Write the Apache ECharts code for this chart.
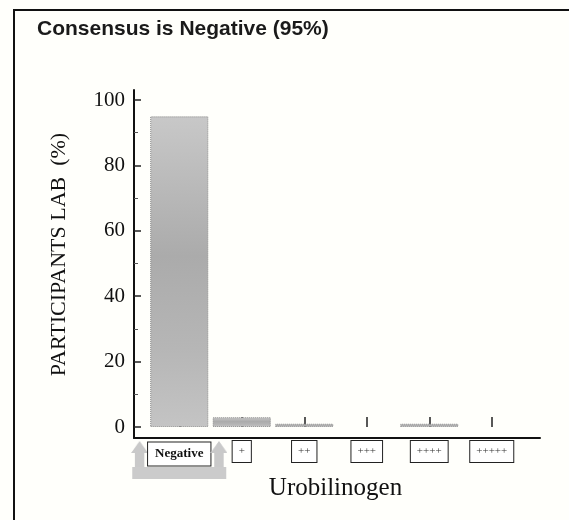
<!DOCTYPE html>
<html>
<head>
<meta charset="utf-8">
<script src="https://cdn.jsdelivr.net/npm/echarts@6/dist/echarts.min.js"></script>
<style>
  html, body { margin: 0; padding: 0; background: #fffffb; }
  #main { width: 569px; height: 520px; }
</style>
</head>
<body>
<div id="main"></div>
<script>
// urobilinogen result categories
var categories = ['Negative', '+', '++', '+++', '++++', '+++++'];

// share of participant labs (%)
var percents = [95, 3, 1, 0, 1, 0];

var yTicks = [0, 20, 40, 60, 80, 100];

var consensus = 'Negative';

var serif = "'Liberation Serif', 'DejaVu Serif', serif";

var barColor = new echarts.graphic.LinearGradient(0, 0, 0, 1, [
    { offset: 0, color: '#c8c8c8' },
    { offset: 0.45, color: '#ababab' },
    { offset: 0.75, color: '#b6b6b6' },
    { offset: 1, color: '#c4c4c4' }
]);

// little grey up-arrow used either side of the consensus label
function arrowIcon() {
    var c = document.createElement('canvas');
    c.width = 18;
    c.height = 26;
    var ctx = c.getContext('2d');
    ctx.fillStyle = '#c9c9c9';
    ctx.beginPath();
    ctx.moveTo(9, 0);
    ctx.lineTo(18, 12);
    ctx.lineTo(14, 12);
    ctx.lineTo(14, 26);
    ctx.lineTo(4, 26);
    ctx.lineTo(4, 12);
    ctx.lineTo(0, 12);
    ctx.closePath();
    ctx.fill();
    return c;
}

var option = {
    backgroundColor: '#fffffb',
    animation: false,
    title: {
        text: 'Consensus is ' + consensus + ' (95%)',
        left: 37,
        top: 19,
        padding: 0,
        textStyle: {
            fontFamily: "'Liberation Sans', Arial, sans-serif",
            fontWeight: 'bold',
            fontSize: 21,
            color: '#1a1a1a'
        }
    },
    graphic: [{
        // scanned frame round the figure
        type: 'rect',
        shape: { x: 14, y: 10, width: 620, height: 600 },
        style: { fill: 'none', stroke: '#111', lineWidth: 2 },
        silent: true
    }],
    grid: [
        // data grid
        { left: 148, right: 46, top: 100, bottom: 93 },
        // frame grid: only carries the long L-shaped axis lines
        { left: 134, right: 29, top: 90, bottom: 82 }
    ],
    xAxis: [{
        type: 'category',
        gridIndex: 0,
        data: categories,
        offset: 11,
        name: 'Urobilinogen',
        nameLocation: 'middle',
        nameGap: 38,
        nameMoveOverlap: false,
        nameTextStyle: {
            fontFamily: serif,
            fontSize: 25,
            color: '#111'
        },
        axisLine: { show: false },
        axisTick: {
            show: true,
            inside: true,
            length: 10,
            alignWithLabel: true,
            lineStyle: { color: '#222', width: 1.5 }
        },
        axisLabel: {
            margin: 3,
            interval: 0,
            formatter: function (v) {
                if (v === consensus) {
                    return '{s| }{n|' + v + '}{s| }\n{u| }';
                }
                return '{p|' + v + '}';
            },
            rich: {
                s: {
                    width: 17,
                    height: 26,
                    backgroundColor: { image: arrowIcon() }
                },
                u: {
                    width: 94,
                    height: 12,
                    backgroundColor: '#cbcbcb'
                },
                n: {
                    fontFamily: serif,
                    fontWeight: 'bold',
                    fontSize: 13,
                    color: '#111',
                    backgroundColor: '#fff',
                    borderColor: '#222',
                    borderWidth: 1,
                    padding: [5, 7]
                },
                p: {
                    fontFamily: serif,
                    fontSize: 11,
                    color: '#333',
                    backgroundColor: '#fff',
                    borderColor: '#222',
                    borderWidth: 1,
                    padding: [5, 6]
                }
            }
        },
        splitLine: { show: false }
    }, {
        type: 'value',
        gridIndex: 1,
        min: 0,
        max: 1,
        axisLine: { show: true, lineStyle: { color: '#111', width: 2 } },
        axisTick: { show: false },
        axisLabel: { show: false },
        splitLine: { show: false }
    }],
    yAxis: [{
        type: 'value',
        gridIndex: 0,
        min: yTicks[0],
        max: yTicks[yTicks.length - 1],
        interval: yTicks[1] - yTicks[0],
        offset: 14,
        name: 'PARTICIPANTS LAB  (%)',
        nameLocation: 'middle',
        nameGap: 64,
        nameMoveOverlap: false,
        nameTextStyle: {
            fontFamily: serif,
            fontSize: 22,
            color: '#111',
            padding: [0, 0, 0, 18]
        },
        axisLine: { show: false },
        axisTick: {
            show: true,
            inside: true,
            length: 7,
            lineStyle: { color: '#222', width: 1.5 }
        },
        minorTick: {
            show: true,
            splitNumber: 2,
            length: 4,
            lineStyle: { color: '#555', width: 1 }
        },
        axisLabel: {
            margin: 9,
            fontFamily: serif,
            fontSize: 21,
            color: '#111'
        },
        splitLine: { show: false }
    }, {
        type: 'value',
        gridIndex: 1,
        min: 0,
        max: 1,
        axisLine: { show: true, lineStyle: { color: '#111', width: 2 } },
        axisTick: { show: false },
        axisLabel: { show: false },
        splitLine: { show: false }
    }],
    series: [{
        type: 'bar',
        xAxisIndex: 0,
        yAxisIndex: 0,
        barWidth: '93%',
        // empty categories draw no bar at all
        data: percents.map(function (p) { return p > 0 ? p : null; }),
        itemStyle: {
            color: barColor,
            borderColor: '#8a8a8a',
            borderWidth: 1,
            borderType: 'dotted'
        }
    }]
};

var myChart = echarts.init(document.getElementById('main'));
myChart.setOption(option);
</script>
</body>
</html>
